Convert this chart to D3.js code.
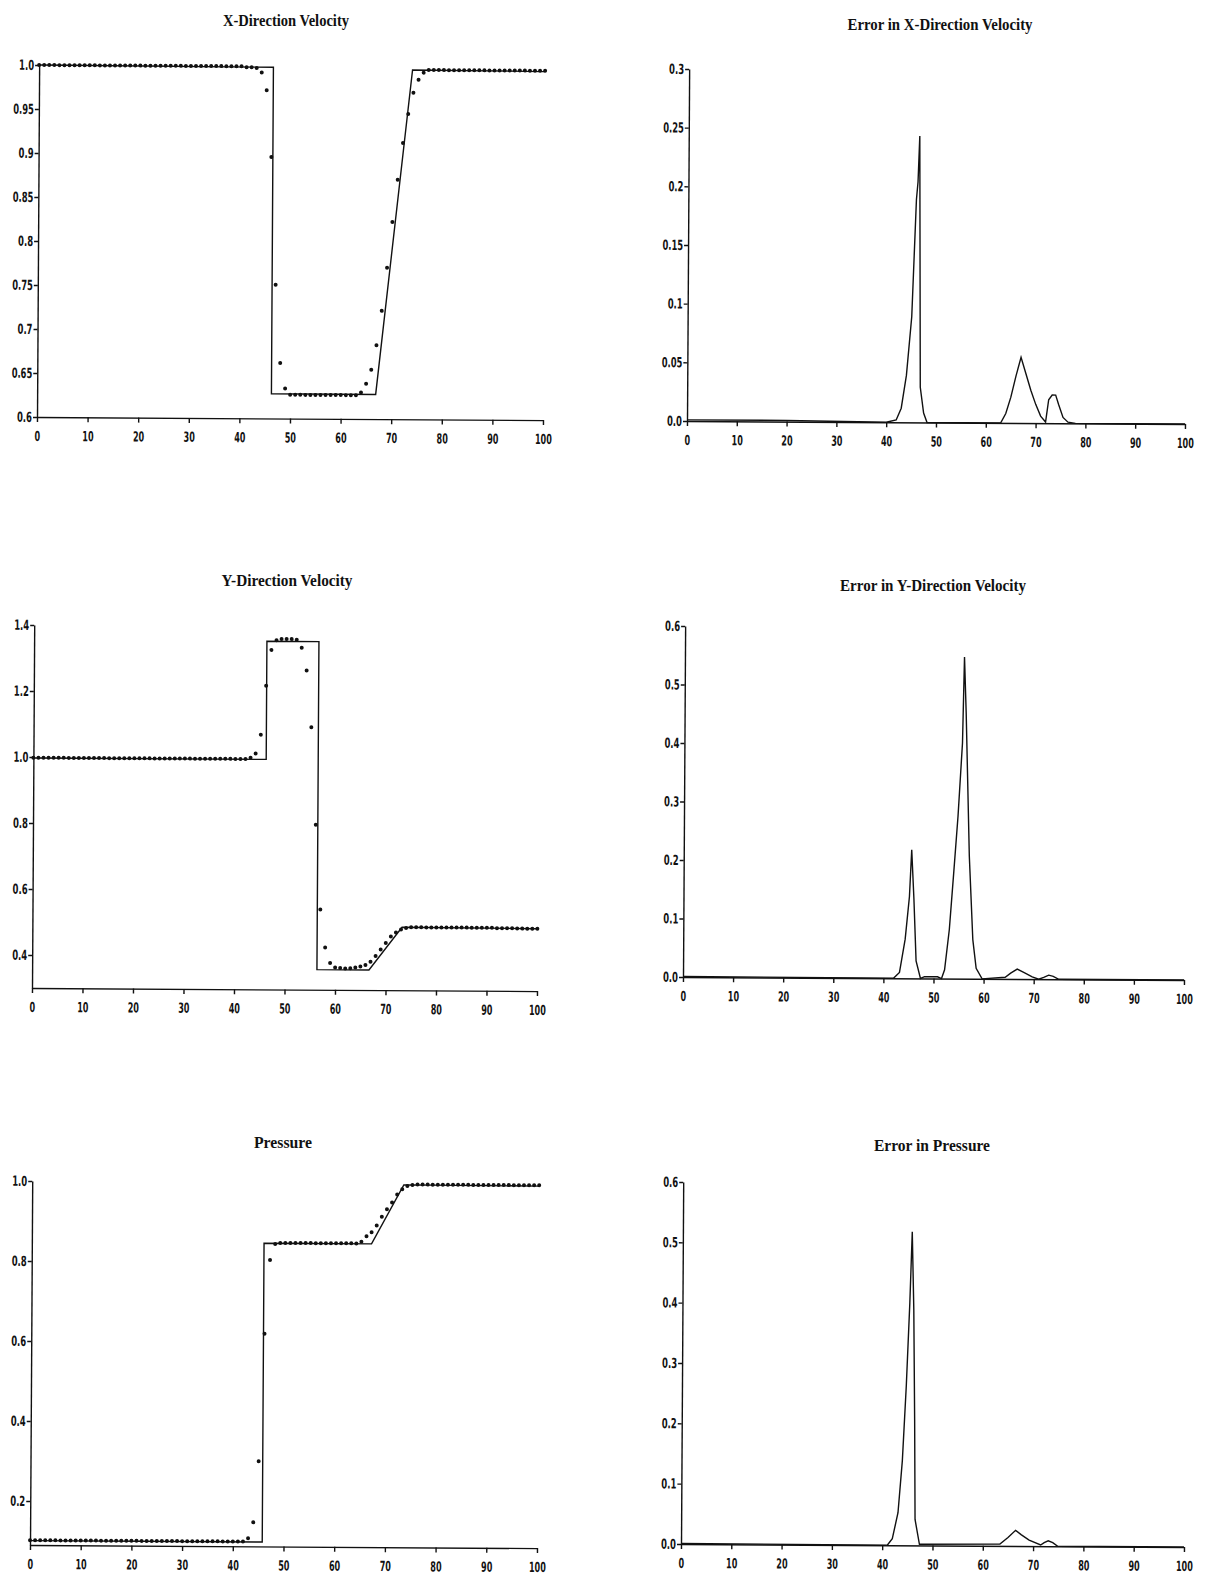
<!DOCTYPE html>
<meta charset="utf-8">
<script src="https://d3js.org/d3.v7.min.js"></script>
<style>
    body { margin: 0; background: #fff; }
    .title {
        font-family: "Liberation Serif", "DejaVu Serif", serif;
        font-weight: bold;
        font-size: 16px;
        fill: #111;
    }
    .axis text {
        font-family: "Liberation Sans Narrow", "DejaVu Sans", sans-serif;
        font-weight: bold;
        font-size: 14px;
        fill: #111;
    }
    .axis path, .axis line { stroke: #111; stroke-width: 1.4; }
    .curve { fill: none; stroke: #111; stroke-width: 1.4; }
    .dot { fill: #111; }
</style>
<body>
<svg width="1205" height="1576"></svg>
</body>
<script>
    // shared x axis
    const xTicks = [0, 10, 20, 30, 40, 50, 60, 70, 80, 90, 100];
    const gridX = d3.range(0, 101); // cell positions of the computed solution

    // X-direction velocity: computed values and exact solution
    const uNum = [
        1.0, 1.0, 1.0, 1.0, 1.0, 1.0, 1.0, 1.0, 1.0, 1.0,
        1.0, 1.0, 1.0, 1.0, 1.0, 1.0, 1.0, 1.0, 1.0, 1.0,
        1.0, 1.0, 1.0, 1.0, 1.0, 1.0, 1.0, 1.0, 1.0, 1.0,
        1.0, 1.0, 1.0, 1.0, 1.0, 1.0, 1.0, 1.0, 1.0, 1.0,
        1.0, 0.999, 0.999, 0.998, 0.993, 0.973, 0.897, 0.752, 0.663, 0.634,
        0.627, 0.627, 0.627, 0.627, 0.627, 0.627, 0.627, 0.627, 0.627, 0.627,
        0.627, 0.627, 0.627, 0.627, 0.630, 0.640, 0.656, 0.684, 0.723, 0.772,
        0.824, 0.872, 0.914, 0.947, 0.971, 0.986, 0.994, 0.997, 0.997, 0.997,
        0.997, 0.997, 0.997, 0.997, 0.997, 0.997, 0.997, 0.997, 0.997, 0.997,
        0.997, 0.997, 0.997, 0.997, 0.997, 0.997, 0.997, 0.997, 0.997, 0.997,
        0.997
    ];
    const uExactX = [0, 46.3, 46.3, 66.9, 73.8, 100];
    const uExactY = [1.0, 0.999, 0.628, 0.628, 0.997, 0.996];
    const uTicks = [0.6, 0.65, 0.7, 0.75, 0.8, 0.85, 0.9, 0.95, 1.0];
    const uTickLabels = ['0.6', '0.65', '0.7', '0.75', '0.8', '0.85', '0.9', '0.95', '1.0'];

    // error in X-direction velocity
    const errUX = [0, 20, 40, 42, 43, 44, 45, 45.8, 46.1, 46.4, 46.8, 47.5, 48.2, 63, 64, 65, 66, 67, 68, 69,
        70, 71, 72, 72.6, 73.3, 74, 74.6, 75.5, 76.5, 78, 100];
    const errUY = [0.001, 0.001, 0, 0.002, 0.012, 0.04, 0.09, 0.19, 0.205, 0.244, 0.03, 0.008, 0, 0, 0.008, 0.022, 0.04, 0.056, 0.042, 0.028,
        0.016, 0.006, 0.001, 0.02, 0.024, 0.024, 0.016, 0.005, 0.001, 0, 0];
    const errUTicks = [0, 0.05, 0.1, 0.15, 0.2, 0.25, 0.3];
    const errUTickLabels = ['0.0', '0.05', '0.1', '0.15', '0.2', '0.25', '0.3'];

    // Y-direction velocity
    const vNum = [
        0.998, 0.998, 0.998, 0.998, 0.998, 0.998, 0.998, 0.998, 0.998, 0.998,
        0.998, 0.998, 0.998, 0.998, 0.998, 0.998, 0.998, 0.998, 0.998, 0.998,
        0.998, 0.998, 0.998, 0.998, 0.998, 0.998, 0.998, 0.998, 0.998, 0.998,
        0.998, 0.998, 0.998, 0.998, 0.998, 0.998, 0.998, 0.998, 0.998, 0.998,
        0.998, 0.998, 0.998, 1.002, 1.015, 1.072, 1.22, 1.329, 1.358, 1.362,
        1.362, 1.362, 1.36, 1.336, 1.267, 1.095, 0.80, 0.543, 0.428, 0.381,
        0.368, 0.366, 0.365, 0.366, 0.368, 0.371, 0.376, 0.386, 0.403, 0.423,
        0.443, 0.463, 0.475, 0.484, 0.489, 0.491, 0.491, 0.491, 0.491, 0.491,
        0.491, 0.491, 0.491, 0.491, 0.491, 0.491, 0.491, 0.491, 0.491, 0.491,
        0.491, 0.491, 0.490, 0.490, 0.490, 0.490, 0.489, 0.489, 0.489, 0.489,
        0.489
    ];
    const vExactX = [0, 46.1, 46.1, 56.4, 56.4, 66.7, 73.2, 100];
    const vExactY = [0.997, 0.997, 1.355, 1.355, 0.361, 0.361, 0.491, 0.489];
    const vTicks = [0.4, 0.6, 0.8, 1.0, 1.2, 1.4];
    const vTickLabels = ['0.4', '0.6', '0.8', '1.0', '1.2', '1.4'];

    // error in Y-direction velocity
    const errVX = [0, 42, 43.2, 44.3, 45.1, 45.5, 46.0, 46.5, 47.4, 48.2, 50.8, 51.6, 52.2, 53.1, 53.9, 54.7, 55.5, 55.8, 56.2, 57.0,
        57.8, 58.5, 59.7, 64.3, 65.4, 66.7, 68.1, 69.7, 71.0, 72.0, 73.0, 73.9, 75.0, 100];
    const errVY = [0.001, 0, 0.01, 0.067, 0.14, 0.22, 0.135, 0.03, 0, 0.003, 0.003, 0, 0.015, 0.084, 0.18, 0.278, 0.403, 0.55, 0.455, 0.21,
        0.067, 0.018, 0, 0.003, 0.01, 0.017, 0.011, 0.004, 0, 0.003, 0.007, 0.005, 0, 0];
    const errTicks = [0, 0.1, 0.2, 0.3, 0.4, 0.5, 0.6];
    const errTickLabels = ['0.0', '0.1', '0.2', '0.3', '0.4', '0.5', '0.6'];

    // pressure
    const pNum = [
        0.102, 0.102, 0.102, 0.102, 0.102, 0.102, 0.102, 0.102, 0.102, 0.102,
        0.102, 0.102, 0.102, 0.102, 0.102, 0.102, 0.102, 0.102, 0.102, 0.102,
        0.102, 0.102, 0.102, 0.102, 0.102, 0.102, 0.102, 0.102, 0.102, 0.102,
        0.102, 0.102, 0.102, 0.102, 0.102, 0.102, 0.102, 0.102, 0.102, 0.102,
        0.102, 0.102, 0.102, 0.11, 0.15, 0.303, 0.622, 0.806, 0.846, 0.849,
        0.849, 0.849, 0.849, 0.849, 0.849, 0.849, 0.849, 0.849, 0.849, 0.849,
        0.849, 0.849, 0.849, 0.849, 0.849, 0.853, 0.867, 0.877, 0.894, 0.916,
        0.935, 0.952, 0.972, 0.985, 0.993, 0.996, 0.997, 0.997, 0.997, 0.997,
        0.997, 0.997, 0.997, 0.997, 0.997, 0.997, 0.997, 0.997, 0.997, 0.997,
        0.997, 0.997, 0.997, 0.997, 0.997, 0.997, 0.997, 0.997, 0.997, 0.997,
        0.997
    ];
    const pExactX = [0, 45.8, 45.8, 67.0, 73.3, 100];
    const pExactY = [0.101, 0.101, 0.848, 0.848, 0.996, 0.995];
    const pTicks = [0.2, 0.4, 0.6, 0.8, 1.0];
    const pTickLabels = ['0.2', '0.4', '0.6', '0.8', '1.0'];

    // error in pressure
    const errPX = [0, 41, 42, 43.1, 43.9, 44.6, 45.2, 45.6, 46.0, 46.3, 46.5, 47.4, 63.4, 65, 66.5, 67.6, 69.2, 71.5, 72.2, 73,
        73.9, 74.9, 100];
    const errPY = [0.001, 0, 0.011, 0.054, 0.14, 0.265, 0.402, 0.52, 0.39, 0.208, 0.043, 0.002, 0.003, 0.014, 0.026, 0.019, 0.01, 0.002, 0.006, 0.009,
        0.006, 0, 0];

    const zip = (xs, ys) => xs.map((d, i) => [d, ys[i]]);

    const panels = [
        { title: 'X-Direction Velocity', cx: 286, cy: 26, tw: 126,
          left: 37, right: 543, top: 65, bottom: 417, yDomain: [0.6, 1.0],
          ticks: uTicks, labels: uTickLabels,
          line: zip(uExactX, uExactY), dots: zip(gridX, uNum) },
        { title: 'Error in X-Direction Velocity', cx: 940, cy: 30, tw: 185,
          left: 687, right: 1185, top: 69, bottom: 421, yDomain: [0, 0.3],
          ticks: errUTicks, labels: errUTickLabels,
          line: zip(errUX, errUY) },
        { title: 'Y-Direction Velocity', cx: 287, cy: 586, tw: 131,
          left: 32, right: 537, top: 625, bottom: 988, yDomain: [0.3, 1.4],
          ticks: vTicks, labels: vTickLabels,
          line: zip(vExactX, vExactY), dots: zip(gridX, vNum) },
        { title: 'Error in Y-Direction Velocity', cx: 933, cy: 591, tw: 186,
          left: 683, right: 1184, top: 626, bottom: 977, yDomain: [0, 0.6],
          ticks: errTicks, labels: errTickLabels,
          line: zip(errVX, errVY) },
        { title: 'Pressure', cx: 283, cy: 1148, tw: 58,
          left: 30, right: 537, top: 1181, bottom: 1545, yDomain: [0.09, 1.0],
          ticks: pTicks, labels: pTickLabels,
          line: zip(pExactX, pExactY), dots: zip(gridX, pNum) },
        { title: 'Error in Pressure', cx: 932, cy: 1151, tw: 116,
          left: 681, right: 1184, top: 1182, bottom: 1544, yDomain: [0, 0.6],
          ticks: errTicks, labels: errTickLabels,
          line: zip(errPX, errPY) },
    ];

    // squeeze tick labels to the narrow plotter lettering
    const squeeze = sel => sel.selectAll('text')
        .attr('textLength', function () {
            const s = this.textContent;
            const dots = (s.match(/\./g) || []).length;
            return (s.length - dots) * 5.6 + dots * 3.8;
        })
        .attr('lengthAdjust', 'spacingAndGlyphs');

    const svg = d3.select('svg');

    panels.forEach(p => {
        const w = p.right - p.left,
            h = p.bottom - p.top;

        svg.append('text')
            .attr('class', 'title')
            .attr('x', p.cx)
            .attr('y', p.cy)
            .attr('text-anchor', 'middle')
            .attr('textLength', p.tw)
            .attr('lengthAdjust', 'spacingAndGlyphs')
            .text(p.title);

        const x = d3.scaleLinear().domain([0, 100]).range([0, w]);
        const y = d3.scaleLinear().domain(p.yDomain).range([h, 0]);

        // the scan is tilted a little
        const g = svg.append('g')
            .attr('transform', 'translate(' + p.left + ',' + p.top + ') rotate(0.35 0 ' + h + ')');

        g.append('g')
            .attr('class', 'axis')
            .attr('transform', 'translate(0,' + h + ')')
            .call(d3.axisBottom(x).tickValues(xTicks).tickSize(5).tickSizeOuter(0).tickPadding(9))
            .call(squeeze);

        g.append('g')
            .attr('class', 'axis')
            .call(d3.axisLeft(y)
                .tickValues(p.ticks)
                .tickFormat((d, i) => p.labels[i])
                .tickSize(4)
                .tickSizeOuter(0)
                .tickPadding(1))
            .call(squeeze);

        const line = d3.line()
            .x(d => x(d[0]))
            .y(d => y(d[1]));

        g.append('path')
            .datum(p.line)
            .attr('class', 'curve')
            .attr('d', line);

        if (p.dots) {
            g.selectAll('.dot')
                .data(p.dots)
                .enter()
                .append('circle')
                .attr('class', 'dot')
                .attr('cx', d => x(d[0]))
                .attr('cy', d => y(d[1]))
                .attr('r', 2);
        }
    });
</script>
